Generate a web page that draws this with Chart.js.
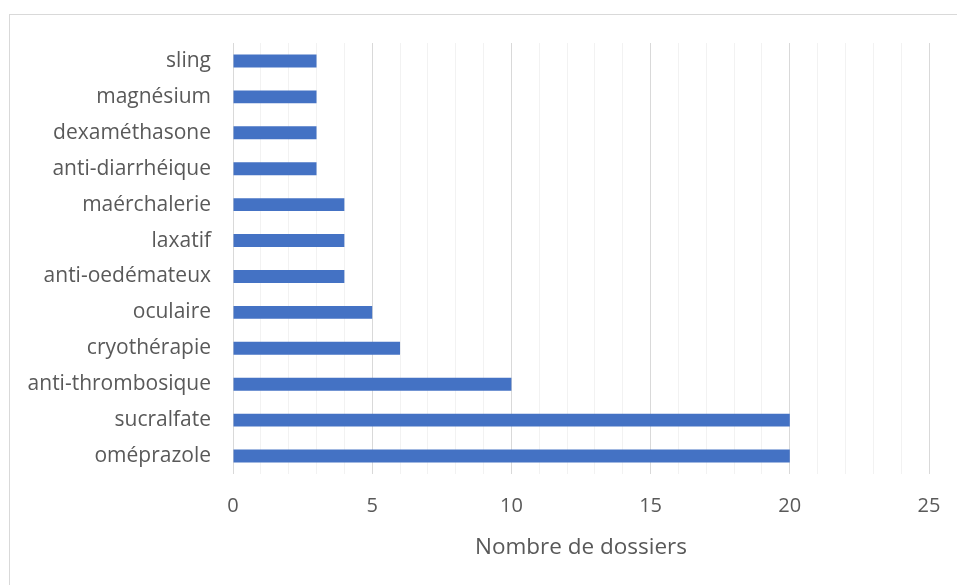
<!DOCTYPE html>
<html>
<head>
<meta charset="utf-8">
<script src="https://cdn.jsdelivr.net/npm/chart.js@4/dist/chart.umd.min.js"></script>
<style>
  html, body { margin: 0; padding: 0; background: #ffffff; }
  #wrap { position: relative; width: 957px; height: 585px; overflow: hidden; }
  #frame { position: absolute; left: 9px; top: 14px; width: 960px; height: 600px; border-left: 1px solid #d9d9d9; border-top: 1px solid #d9d9d9; box-sizing: border-box; }
  canvas { position: absolute; left: 0; top: 0; }
</style>
</head>
<body>
<div id="wrap">
  <div id="frame"></div>
  <canvas id="c" width="957" height="585"></canvas>
</div>
<script>
const categories = ["sling", "magnésium", "dexaméthasone", "anti-diarrhéique", "maérchalerie", "laxatif", "anti-oedémateux", "oculaire", "cryothérapie", "anti-thrombosique", "sucralfate", "oméprazole"];
const values = [3, 3, 3, 3, 4, 4, 4, 5, 6, 10, 20, 20];
const xTickLabels = [0, 5, 10, 15, 20, 25];
const axisTitle = "Nombre de dossiers";

const FONT = "'Open Sans', sans-serif";
const TEXT = "#595959";

new Chart(document.getElementById('c'), {
  type: 'bar',
  data: {
    labels: categories,
    datasets: [{
      data: values,
      backgroundColor: '#4472c4',
      borderWidth: 0,
      categoryPercentage: 1,
      barPercentage: 0.36
    }]
  },
  options: {
    indexAxis: 'y',
    responsive: false,
    animation: false,
    devicePixelRatio: 1,
    layout: { padding: { top: 43, right: 28, left: 0, bottom: 0 } },
    plugins: { legend: { display: false }, tooltip: { enabled: false } },
    scales: {
      x: {
        min: 0, max: 25,
        afterFit: s => { s.height = 111; s.paddingRight = 0; s.paddingLeft = 0; },
        ticks: {
          stepSize: 1,
          autoSkip: false,
          maxRotation: 0,
          padding: 20,
          color: TEXT,
          font: { family: FONT, size: 20 },
          callback: v => xTickLabels.includes(v) ? String(v) : ''
        },
        grid: {
          drawTicks: false,
          lineWidth: 1,
          color: ctx => (ctx.tick && xTickLabels.includes(ctx.tick.value)) ? '#d9d9d9' : '#f2f2f2'
        },
        border: { display: false },
        title: {
          display: true,
          text: axisTitle,
          color: TEXT,
          font: { family: FONT, size: 22.5 },
          padding: { top: 16, bottom: 24 }
        }
      },
      y: {
        afterFit: s => { s.width = 233; },
        grid: { display: false, drawTicks: false },
        border: { display: false },
        ticks: {
          padding: 22,
          color: TEXT,
          font: { family: FONT, size: 21 }
        }
      }
    }
  }
});
</script>
</body>
</html>
